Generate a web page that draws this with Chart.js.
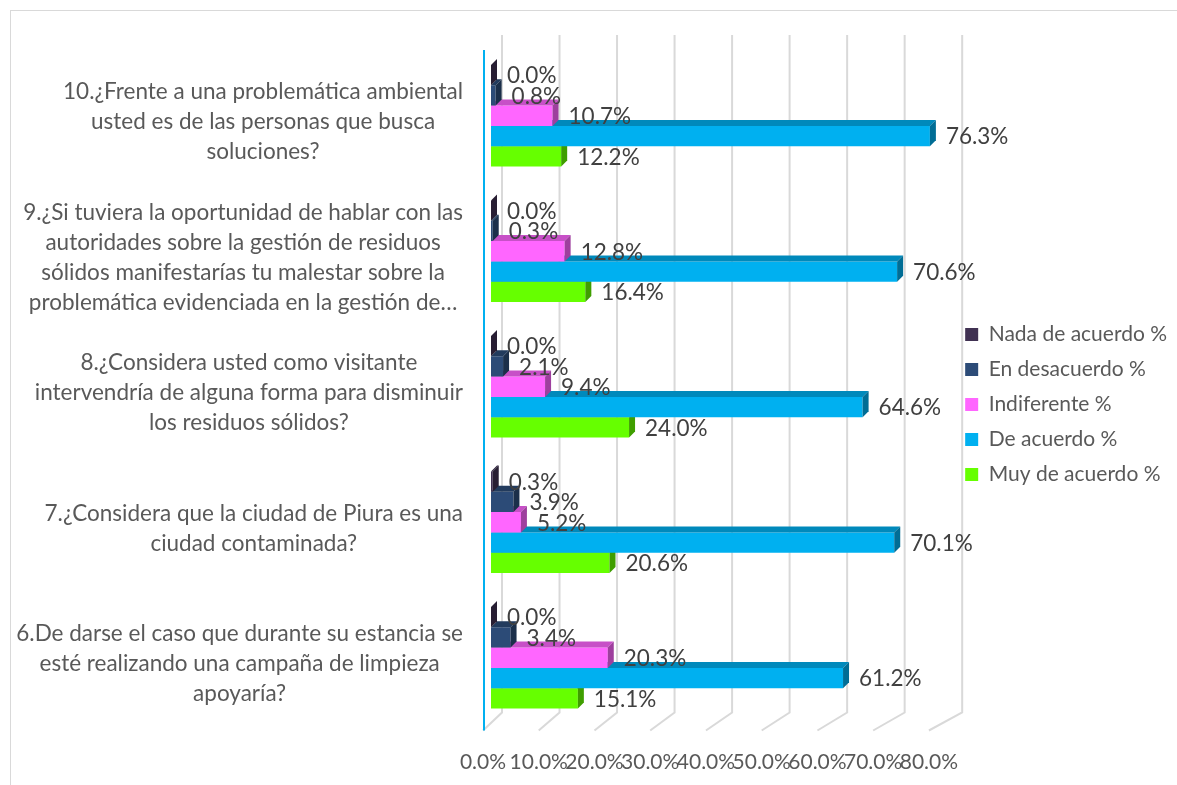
<!DOCTYPE html>
<html>
<head>
<meta charset="utf-8">
<script src="https://cdn.jsdelivr.net/npm/chart.js@4/dist/chart.umd.min.js"></script>
<style>
  body { margin: 0; background: #fff; }
</style>
</head>
<body>
<canvas id="grafico" width="1177" height="785"></canvas>
<script>
const categorias = [
  ["10.¿Frente a una problemática ambiental", "usted es de las personas que busca", "soluciones?"],
  ["9.¿Si tuviera la oportunidad de hablar con las", "autoridades sobre la gestión de residuos", "sólidos manifestarías tu malestar sobre la", "problemática evidenciada en la gestión de…"],
  ["8.¿Considera usted como visitante", "intervendría de alguna forma para disminuir", "los residuos sólidos?"],
  ["7.¿Considera que la ciudad de Piura es una", "ciudad contaminada?"],
  ["6.De darse el caso que durante su estancia se", "esté realizando una campaña de limpieza", "apoyaría?"]
];
const series = ["Nada de acuerdo %", "En desacuerdo %", "Indiferente %", "De acuerdo %", "Muy de acuerdo %"];
const nada = [0.0, 0.0, 0.0, 0.3, 0.0];
const enDesacuerdo = [0.8, 0.3, 2.1, 3.9, 3.4];
const indiferente = [10.7, 12.8, 9.4, 5.2, 20.3];
const deAcuerdo = [76.3, 70.6, 64.6, 70.1, 61.2];
const muyDeAcuerdo = [12.2, 16.4, 24.0, 20.6, 15.1];
const ticksX = [0, 10, 20, 30, 40, 50, 60, 70, 80];
const colores = ["#403152", "#2c4b77", "#ff66ff", "#00b0f0", "#66ff00"];

const FUENTE = "Lato, 'Open Sans', sans-serif";
const PROF = 6; // profundidad 3D

function sombra(hex, f) {
  const n = parseInt(hex.slice(1), 16);
  const r = Math.round(((n >> 16) & 255) * f);
  const g = Math.round(((n >> 8) & 255) * f);
  const b = Math.round((n & 255) * f);
  return `rgb(${r},${g},${b})`;
}

// x del plano frontal (suelo) para las etiquetas del eje
const xFrente = (scale, v) => scale.left - 8 + (scale.getPixelForValue(v) - scale.left) * 0.969;

const fondo3D = {
  id: "fondo3D",
  afterLayout(chart) {
    // subir un poco la leyenda como en el original
    chart.legend.top -= 12;
    chart.legend.bottom -= 12;
  },
  beforeDraw(chart) {
    const ctx = chart.ctx;
    const sx = chart.scales.x;
    const area = chart.chartArea;
    ctx.save();
    ctx.fillStyle = "#fff";
    ctx.fillRect(0, 0, chart.width, chart.height);
    ctx.strokeStyle = "#d9d9d9";
    ctx.lineWidth = 1;
    ctx.strokeRect(10.5, 10.5, chart.width + 20, chart.height + 20);

    ctx.strokeStyle = "#d9d9d9";
    ctx.lineWidth = 2;
    const yTop = area.top - 13, yBack = area.bottom - 13, yFront = area.bottom + 5;
    ticksX.forEach(v => {
      const bx = sx.getPixelForValue(v) + 11;
      ctx.beginPath();
      ctx.moveTo(bx, yTop);
      ctx.lineTo(bx, yBack);
      ctx.lineTo(xFrente(sx, v), yFront);
      ctx.stroke();
    });
    // eje vertical
    ctx.strokeStyle = "#00b0f0";
    ctx.lineWidth = 2;
    ctx.beginPath();
    ctx.moveTo(xFrente(sx, 0) + 1, area.top + 2);
    ctx.lineTo(xFrente(sx, 0) + 1, yFront);
    ctx.stroke();
    ctx.restore();
  },
  afterDatasetDraw(chart, args) {
    const ctx = chart.ctx;
    const color = colores[args.index];
    ctx.save();
    args.meta.data.forEach(el => {
      const p = el.getProps(["x", "y", "base", "height"], true);
      const top = p.y - p.height / 2, bottom = p.y + p.height / 2;
      ctx.fillStyle = sombra(color, 0.78);
      ctx.beginPath();
      ctx.moveTo(p.base, top);
      ctx.lineTo(p.base + PROF, top - PROF);
      ctx.lineTo(p.x + PROF, top - PROF);
      ctx.lineTo(p.x, top);
      ctx.closePath();
      ctx.fill();
      ctx.fillStyle = sombra(color, 0.62);
      ctx.beginPath();
      ctx.moveTo(p.x, top);
      ctx.lineTo(p.x + PROF, top - PROF);
      ctx.lineTo(p.x + PROF, bottom - PROF);
      ctx.lineTo(p.x, bottom);
      ctx.closePath();
      ctx.fill();
    });
    ctx.restore();
  },
  afterDraw(chart) {
    const ctx = chart.ctx;
    const sx = chart.scales.x, sy = chart.scales.y;
    ctx.save();
    // etiquetas de datos
    ctx.font = `22.5px ${FUENTE}`;
    ctx.fillStyle = "#404040";
    ctx.textAlign = "left";
    ctx.textBaseline = "middle";
    chart.data.datasets.forEach((ds, i) => {
      chart.getDatasetMeta(i).data.forEach((el, j) => {
        const p = el.getProps(["x", "y"], true);
        ctx.fillText(ds.data[j].toFixed(1) + "%", p.x + 16, p.y + 1);
      });
    });
    // etiquetas de categoría
    ctx.font = `22.5px ${FUENTE}`;
    ctx.fillStyle = "#595959";
    ctx.textAlign = "center";
    categorias.forEach((lineas, i) => {
      const yc = sy.getPixelForTick(i) + 6;
      const maxW = Math.max(...lineas.map(l => ctx.measureText(l).width));
      const cx = 463 - maxW / 2;
      const y0 = yc - (lineas.length - 1) * 30 / 2;
      lineas.forEach((l, k) => ctx.fillText(l, cx, y0 + k * 30));
    });
    // etiquetas del eje x
    ctx.font = `21px ${FUENTE}`;
    ticksX.forEach(v => ctx.fillText(v.toFixed(1) + "%", xFrente(sx, v), 762));
    ctx.restore();
  }
};

const valores = [nada, enDesacuerdo, indiferente, deAcuerdo, muyDeAcuerdo];

const data = {
  labels: categorias,
  datasets: series.map((s, i) => ({
    label: s,
    data: valores[i],
    backgroundColor: colores[i],
    borderWidth: 0,
    categoryPercentage: 0.75,
    barPercentage: 1.0
  }))
};

const config = {
  type: "bar",
  data: data,
  options: {
    indexAxis: "y",
    responsive: false,
    animation: false,
    devicePixelRatio: 1,
    layout: { padding: { top: 48, right: 0, bottom: 0, left: 0 } },
    scales: {
      x: {
        min: 0,
        max: 80,
        ticks: { display: false, stepSize: 10 },
        grid: { display: false },
        border: { display: false },
        afterFit: (scale) => { scale.height = 59.5; }
      },
      y: {
        ticks: { display: false },
        grid: { display: false },
        border: { display: false },
        afterFit: (scale) => { scale.width = 491; }
      }
    },
    plugins: {
      legend: {
        position: "right",
        labels: {
          boxWidth: 13,
          boxHeight: 13,
          padding: 14,
          color: "#595959",
          font: { family: FUENTE, size: 21 }
        }
      },
      tooltip: { enabled: false }
    }
  },
  plugins: [fondo3D]
};

const myChart = new Chart(document.getElementById("grafico"), config);
</script>
</body>
</html>
